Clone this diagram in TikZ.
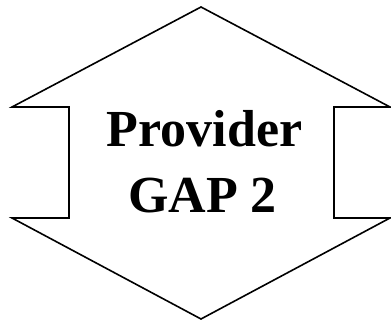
\documentclass[tikz,border=0pt]{standalone}
\usepackage{fontspec}
\setmainfont{Liberation Serif}
\begin{document}
\begin{tikzpicture}[x=1pt,y=1pt,
  outline/.style={draw=black,line width=1.6pt,line join=miter},
  bigtext/.style={font=\fontsize{52}{66}\selectfont\bfseries,inner sep=0pt}]
\useasboundingbox (0,0) rectangle (391,323);
\draw[outline] (201,316) -- (390,216) -- (334,216) -- (334,105) -- (390,105)
  -- (201,4) -- (12,105) -- (69,105) -- (69,216) -- (12,216) -- cycle;
\node[bigtext,anchor=base] (l1) at (204.5,176) {Provider};
\node[bigtext,anchor=base] (l2) at (202.5,110) {GAP 2};
\end{tikzpicture}
\end{document}
